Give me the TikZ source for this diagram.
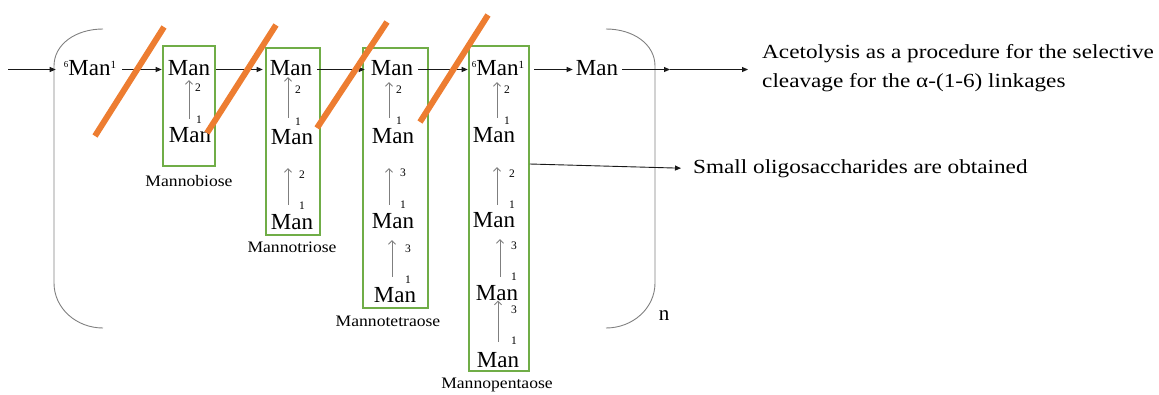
\documentclass[tikz,border=0pt]{standalone}
\usepackage{fontspec}
\usepackage{graphicx}
\setmainfont{Liberation Serif}
\usetikzlibrary{arrows.meta,calc}
\definecolor{boxgreen}{HTML}{70AD47}
\definecolor{cutorange}{HTML}{ED7D31}
\definecolor{linkgray}{HTML}{7F7F7F}
\definecolor{brgray}{HTML}{808080}
% raised linkage position number
\newcommand\posnum[3]{\raisebox{#2}{\fontsize{#1}{#1}\selectfont #3}}
% vertical glycosidic link from a lower residue up to the residue above it
\newcommand\uplink[5]{\draw[vlink, shorten <=#4pt, shorten >=#5pt]
  ($(#1.north)+(#3,0)$) -- ($(#1.north |- #2.south)+(#3,0)$);}
\begin{document}
\begin{tikzpicture}[x=1pt,y=-1pt,
  man/.style={inner sep=0pt, anchor=base, font=\fontsize{23}{23}\selectfont,
    text height=13pt, text depth=2pt},
  num/.style={inner sep=0pt, font=\fontsize{11.5}{11.5}\selectfont},
  sugar/.style={inner sep=0pt, font=\fontsize{16}{16}\selectfont,
    text height=11pt, text depth=3pt},
  note/.style={inner sep=0pt, anchor=base west, font=\fontsize{20}{20}\selectfont},
  gbox/.style={draw=boxgreen, line width=1.5pt, inner sep=0pt},
  flow/.style={draw=black!90, line width=0.9pt, -{Triangle[length=6pt,width=5pt]}},
  vlink/.style={draw=linkgray, line width=0.9pt, -{Straight Barb[length=3.5pt,width=7pt]}},
  cut/.style={draw=cutorange, line width=6pt},
  brak/.style={draw=brgray, line width=0.9pt},
]
\useasboundingbox (0,0) rectangle (1159,394);

% oligosaccharide frames
\node[gbox, minimum width=52pt, minimum height=120pt] (box1) at (189,106) {};
\node[gbox, minimum width=54pt, minimum height=187pt] (box2) at (293,141.5) {};
\node[gbox, minimum width=65pt, minimum height=260pt] (box3) at (395.5,178) {};
\node[gbox, minimum width=60pt, minimum height=325pt] (box4) at (499,208.5) {};

% repeat-unit brackets
\draw[brak] (103,29) .. controls (76,29) and (54,44) .. (54,66) -- (54,283)
  .. controls (54,308) and (76,328) .. (103,328);
\draw[brak] (606,29) .. controls (633,29) and (655,44) .. (655,66) -- (655,283)
  .. controls (655,308) and (633,328) .. (606,328);
\node[inner sep=0pt, anchor=base, font=\fontsize{21}{21}\selectfont] (rep) at (664,320) {n};

% backbone residues
\node[man] (m0) at (90,75) {\posnum{9}{8pt}{6}Man\posnum{11}{6.5pt}{1}};
\node[man] (b1a) at (189,75) {Man};
\node[man] (b2a) at (291,75) {Man};
\node[man] (b3a) at (392,75) {Man};
\node[man] (b4a) at (498,75) {\posnum{9}{8pt}{6}Man\posnum{11}{6.5pt}{1}};
\node[man] (mR) at (597,75) {Man};

% side-chain residues
\node[man] (b1b) at (190,142.5) {Man};
\node[man] (b2b) at (292,144.5) {Man};
\node[man] (b2c) at (292,229.5) {Man};
\node[man] (b3b) at (393,143.5) {Man};
\node[man] (b3c) at (393,228.5) {Man};
\node[man] (b3d) at (395,302.5) {Man};
\node[man] (b4b) at (494,142.5) {Man};
\node[man] (b4c) at (494,227.5) {Man};
\node[man] (b4d) at (497,300.5) {Man};
\node[man] (b4e) at (498,367.5) {Man};

% linkage positions
\node[num] (p1a) at (198,88) {2};
\node[num] (p1b) at (199,120) {1};
\node[num] (p2a) at (298,90) {2};
\node[num] (p2b) at (298,122) {1};
\node[num] (p2c) at (302,175) {2};
\node[num] (p2d) at (302,206) {1};
\node[num] (p3a) at (399,90) {2};
\node[num] (p3b) at (399,121) {1};
\node[num] (p3c) at (403,173) {3};
\node[num] (p3d) at (403,205) {1};
\node[num] (p3e) at (408,249) {3};
\node[num] (p3f) at (408,280) {1};
\node[num] (p4a) at (507,90) {2};
\node[num] (p4b) at (507,121) {1};
\node[num] (p4c) at (512,174) {2};
\node[num] (p4d) at (512,205) {1};
\node[num] (p4e) at (514,246) {3};
\node[num] (p4f) at (514,277) {1};
\node[num] (p4g) at (514,310) {3};
\node[num] (p4h) at (514,341) {1};

% vertical links
\uplink{b1b}{b1a}{-1}{10.5}{3}
\uplink{b2b}{b2a}{-4}{13.5}{0}
\uplink{b2c}{b2b}{-4}{11.5}{21.5}
\uplink{b3b}{b3a}{-4}{12.5}{5}
\uplink{b3c}{b3b}{-4}{10.5}{22.5}
\uplink{b3d}{b3c}{-3}{12.5}{9.5}
\uplink{b4b}{b4a}{3}{11.5}{5}
\uplink{b4c}{b4b}{3}{9.5}{22.5}
\uplink{b4d}{b4c}{3}{10.5}{9.5}
\uplink{b4e}{b4d}{0}{12.5}{-2}

% captions
\node[sugar] (lab1) at (189,182) {\scalebox{1.1}[1]{Mannobiose}};
\node[sugar] (lab2) at (292,248) {\scalebox{1.1}[1]{Mannotriose}};
\node[sugar] (lab3) at (388,322) {\scalebox{1.1}[1]{Mannotetraose}};
\node[sugar] (lab4) at (497,384) {\scalebox{1.1}[1]{Mannopentaose}};

% notes
\node[note] (acet1) at (762,58) {\scalebox{1.16}[1]{Acetolysis as a procedure for the selective}};
\node[note] (acet2) at (762,87) {\scalebox{1.16}[1]{cleavage for the α-(1-6) linkages}};
\node[note] (small) at (693,173.3) {\scalebox{1.16}[1]{Small oligosaccharides are obtained}};

% backbone chain
\coordinate (start) at (8,69.5);
\coordinate (j) at (670,69.5);
\draw[flow, shorten >=8pt] (start) -- (m0.west);
\draw[flow, shorten <=6pt, shorten >=6pt] (m0.east) -- (b1a.west);
\draw[flow, shorten <=6pt, shorten >=7pt] (b1a.east) -- (b2a.west);
\draw[flow, shorten <=5pt, shorten >=6pt] (b2a.east) -- (b3a.west);
\draw[flow, shorten <=5pt, shorten >=4pt] (b3a.east) -- (b4a.west);
\draw[flow, shorten <=10pt, shorten >=3pt] (b4a.east) -- (mR.west);
\draw[flow, shorten <=4pt] (mR.east) -- (j);
\draw[flow, shorten >=14pt] (j) -- (j -| acet1.west);
\draw[flow, shorten >=12pt] ($(box4.east)+(0,-44.5)$) -- (small.west);

% acetolysis cleavage sites
\draw[cut] (95,136) -- (164,27);
\draw[cut] (207,133) -- (276,25);
\draw[cut] (317,128) -- (387,22);
\draw[cut] (420,122) -- (488,15);
\end{tikzpicture}
\end{document}
